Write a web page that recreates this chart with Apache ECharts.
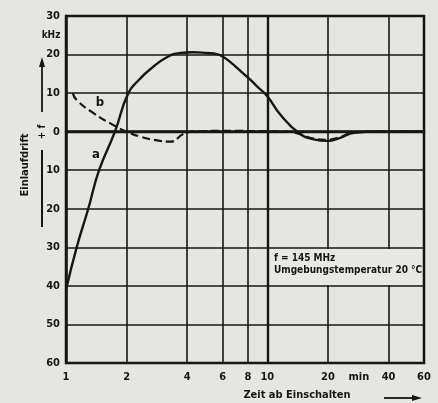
<!DOCTYPE html>
<html><head><meta charset="utf-8">
<script src="https://cdn.jsdelivr.net/npm/echarts@6/dist/echarts.min.js"></script>
<style>html,body{margin:0;padding:0;background:#e5e5e1}#c{width:438px;height:403px}</style>
</head><body><div id="c"></div>
<script>
// Curve a (solid)
var timesA  = [1, 1.13, 1.29, 1.46, 1.75, 2.04, 2.34, 2.62, 3.17, 3.7, 4.3, 5.0, 5.63, 6.07, 6.6, 7.3, 8.1, 9, 10, 11.65, 14.4, 17, 19.9, 23, 27, 35, 60];
var valuesA = [-41, -30, -20, -10, 0, 10, 13.8, 16.2, 19.3, 20.4, 20.6, 20.4, 20.1, 19.3, 17.9, 15.9, 13.8, 11.5, 9.2, 4.3, -0.4, -2, -2.4, -1.6, -0.3, 0, 0];
// Curve b (dashed)
var timesB  = [1.08, 1.13, 1.37, 1.72, 2.0, 2.34, 2.94, 3.3, 3.84, 4.3, 6, 10, 12.5, 14.4, 17, 19.9, 23, 27, 35, 60];
var valuesB = [10, 8.2, 4.8, 1.7, 0, -1.3, -2.4, -2.6, -0.6, 0, 0.2, 0.1, 0, -0.6, -1.8, -2.1, -1.4, -0.1, 0, 0];
var xTicks = [1, 2, 4, 6, 8, 10, 20, 40, 60];
var xLabels = [1, 2, 4, 6, 8, 10, 20, 28.5, 40, 60];
var unitLabelAt = 28.5;

function zip(a, b) { return a.map(function (v, i) { return [v, b[i]]; }); }
var FONT = "'Liberation Sans Narrow', 'DejaVu Sans Condensed', sans-serif";
var INK = '#161616';
var chart = echarts.init(document.getElementById('c'));
chart.setOption({
  backgroundColor: '#e5e5e1',
  animation: false,
  grid: { left: 66, right: 14, top: 16, bottom: 40, show: true, borderColor: INK, borderWidth: 2.5, backgroundColor: 'transparent' },
  xAxis: {
    type: 'log', logBase: 10, min: 1, max: 60,
    axisLine: { show: true, lineStyle: { color: INK, width: 2.5 } },
    axisTick: { show: false, customValues: xTicks },
    splitLine: { show: true, lineStyle: { color: INK, width: 1.6 } },
    minorSplitLine: { show: false },
    axisLabel: {
      customValues: xLabels, margin: 9, color: INK, fontFamily: FONT, fontWeight: 'bold', fontSize: 11,
      formatter: function (v) { return Math.abs(v - unitLabelAt) < 0.01 ? 'min' : String(Math.round(v)); }
    }
  },
  yAxis: {
    type: 'value', min: -60, max: 30, interval: 10,
    axisLine: { show: true, lineStyle: { color: INK, width: 2.5 } },
    axisTick: { show: false },
    splitLine: { show: true, lineStyle: { color: INK, width: 1.6 } },
    axisLabel: { margin: 6, color: INK, fontFamily: FONT, fontWeight: 'bold', fontSize: 11,
      formatter: function (v) { return String(Math.abs(v)); } }
  },
  series: [
    { type: 'line', data: zip(timesA, valuesA), smooth: 0.5, showSymbol: false,
      lineStyle: { color: INK, width: 2.4 },
      markLine: { silent: true, symbol: 'none', label: { show: false },
        lineStyle: { color: INK, width: 2.4, type: 'solid' },
        data: [{ yAxis: 0 }, { xAxis: 10 }] } },
    { type: 'line', data: zip(timesB, valuesB), smooth: 0.5, showSymbol: false,
      lineStyle: { color: INK, width: 2.2, type: [8, 4] } }
  ],
  graphic: [
    { type: 'rect', shape: { x: 268, y: 249, width: 154, height: 36 }, style: { fill: '#e8e8e4' }, z: 5 },
    { type: 'text', x: 274, y: 258, style: { text: 'f = 145 MHz', font: 'bold 10px ' + FONT, fill: INK, textVerticalAlign: 'middle' }, z: 6 },
    { type: 'text', x: 274, y: 270, style: { text: 'Umgebungstemperatur 20 °C', font: 'bold 10px ' + FONT, fill: INK, textVerticalAlign: 'middle' }, z: 6 },
    { type: 'text', x: 96, y: 155, style: { text: 'a', font: 'bold 13px ' + FONT, fill: INK, textAlign: 'center', textVerticalAlign: 'middle' } },
    { type: 'text', x: 100, y: 103, style: { text: 'b', font: 'bold 13px ' + FONT, fill: INK, textAlign: 'center', textVerticalAlign: 'middle' } },
    { type: 'text', x: 51, y: 35, style: { text: 'kHz', font: 'bold 10px ' + FONT, fill: INK, textAlign: 'center', textVerticalAlign: 'middle' } },
    { type: 'text', x: 25, y: 165, rotation: Math.PI / 2, style: { text: 'Einlaufdrift', font: 'bold 11px ' + FONT, fill: INK, textAlign: 'center', textVerticalAlign: 'middle' } },
    { type: 'text', x: 42, y: 132, rotation: Math.PI / 2, style: { text: '+ f', font: 'bold 10px ' + FONT, fill: INK, textAlign: 'center', textVerticalAlign: 'middle' } },
    { type: 'line', shape: { x1: 42, y1: 112, x2: 42, y2: 64 }, style: { stroke: INK, lineWidth: 1.8 } },
    { type: 'polygon', shape: { points: [[42, 57], [39, 67], [45, 67]] }, style: { fill: INK } },
    { type: 'line', shape: { x1: 42, y1: 150, x2: 42, y2: 227 }, style: { stroke: INK, lineWidth: 2 } },
    { type: 'text', x: 297, y: 395, style: { text: 'Zeit ab Einschalten', font: 'bold 11px ' + FONT, fill: INK, textAlign: 'center', textVerticalAlign: 'middle' } },
    { type: 'line', shape: { x1: 384, y1: 398, x2: 414, y2: 398 }, style: { stroke: INK, lineWidth: 1.8 } },
    { type: 'polygon', shape: { points: [[422, 398], [412, 395], [412, 401]] }, style: { fill: INK } }
  ]
});
</script></body></html>
